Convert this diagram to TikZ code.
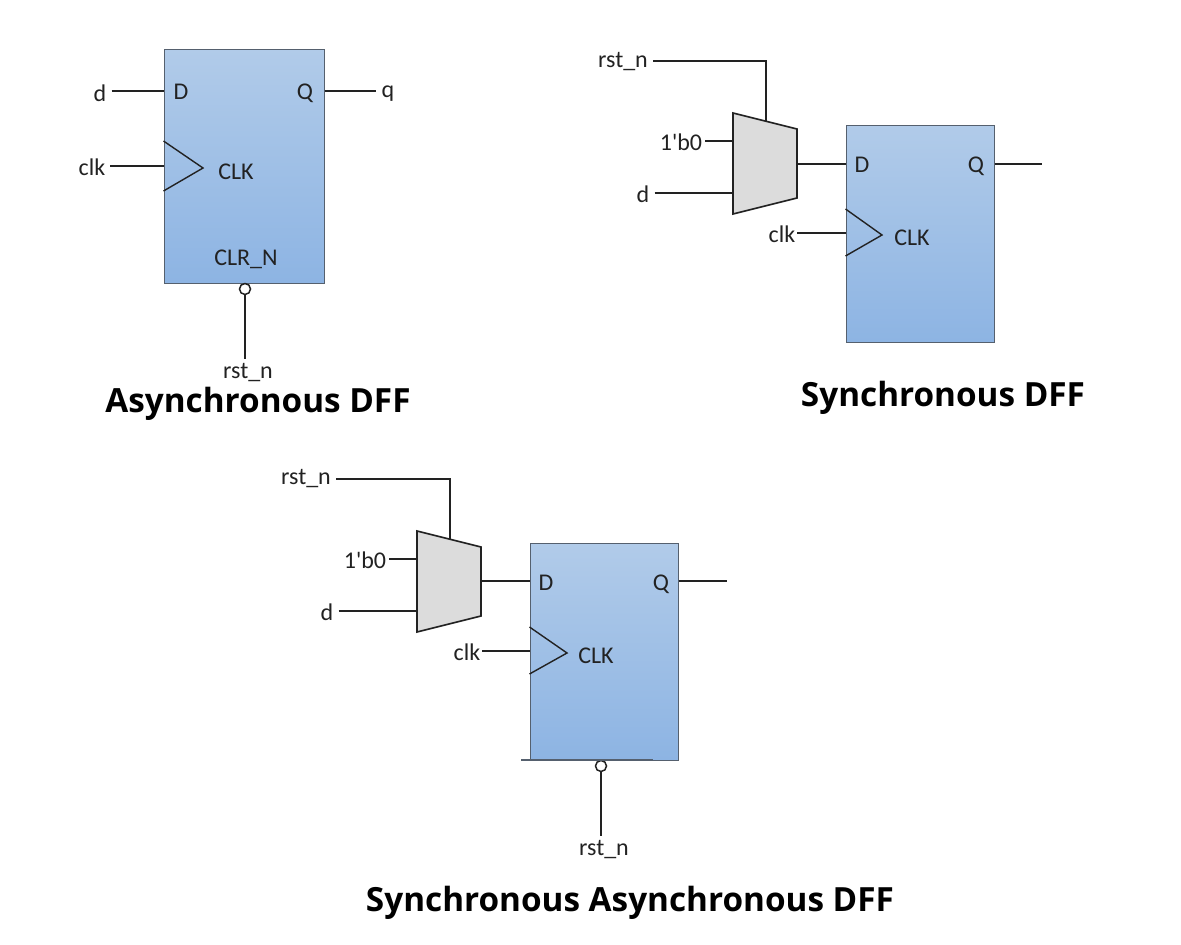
\documentclass[tikz,border=0pt]{standalone}
\usepackage{fontspec}
\setmainfont{Carlito}
\newfontfamily\titlefont[BoldFont={Open Sans Bold}]{Open Sans}
\definecolor{boxtop}{HTML}{B1CBE9}
\definecolor{boxbot}{HTML}{8DB4E3}
\definecolor{boxline}{HTML}{55606E}
\definecolor{muxfill}{HTML}{DCDCDC}
\definecolor{inkc}{HTML}{222222}
\tikzset{
  wire/.style={draw=inkc,line width=2pt},
  lbl/.style={inner sep=5pt,text=inkc,font=\fontsize{24}{24}\selectfont},
  ff/.style={draw=boxline,line width=1pt,top color=boxtop,bottom color=boxbot,minimum width=148pt,minimum height=217pt,inner sep=0pt},
  bubble/.style={circle,draw=inkc,line width=1.5pt,fill=white,minimum size=11pt,inner sep=0pt},
  mux/.style={draw=inkc,line width=1.6pt,fill=muxfill},
  heading/.style={inner sep=0pt,text=black,font=\titlefont\bfseries\fontsize{33.3}{33.3}\selectfont}
}
\begin{document}
\begin{tikzpicture}[x=1pt,y=-1pt]
  \useasboundingbox (0,0) rectangle (1181,945);

  \node[ff,minimum width=160pt,minimum height=234pt](box1) at (244,166){};
  \node[lbl](D1) at (181,92){D};
  \node[lbl](Q1) at (305,93){Q};
  \node[lbl](CLK1) at (236,172){CLK};
  \node[lbl](CLR1) at (246,259){CLR\_N};
  \node[lbl](d1) at (100,93){d};
  \node[lbl](clk1) at (92,167){clk};
  \node[lbl](q1) at (388,94){q};
  \node[lbl](rst1) at (248,373){rst\_n};
  \node[bubble](inv1) at (245,289){};
  \coordinate (tip1) at (203,168);
  \draw[wire,line width=1.4pt] (box1.west |- 0,141) -- (tip1) -- (box1.west |- 0,191);
  \draw[wire] (d1.east |- 0,91) -- (box1.west |- 0,91);
  \draw[wire] (clk1.east |- 0,166) -- (box1.west |- 0,166);
  \draw[wire] (box1.east |- 0,91) -- (q1.west |- 0,91);
  \draw[wire] (inv1) -- (rst1.north -| inv1);
  \node[heading](title1) at (258,404){Asynchronous DFF};

  \node[ff](box2) at (920,233.5){};
  \node[lbl](D2) at (862,165){D};
  \node[lbl](Q2) at (976,166){Q};
  \node[lbl](CLK2) at (912,238){CLK};
  \node[lbl,inner xsep=2pt](clk2) at (782,234){clk};
  \node[lbl,inner xsep=3pt](zero2) at (681,142){1\textquotesingle b0};
  \node[lbl](d2) at (643,194){d};
  \node[lbl](rst2) at (623,62){rst\_n};
  \coordinate (muxa2) at (733,113);
  \coordinate (muxb2) at (797,129);
  \coordinate (muxc2) at (797,198);
  \coordinate (muxd2) at (733,214);
  \coordinate (sel2) at (766,121);
  \coordinate (out2) at (1042,164);
  \coordinate (tip2) at (882,235);
  \draw[mux] (muxa2) -- (muxb2) -- (muxc2) -- (muxd2) -- cycle;
  \draw[wire,line width=1.4pt] (box2.west |- 0,209) -- (tip2) -- (box2.west |- 0,256);
  \draw[wire] (rst2.east |- 0,61) -| (sel2);
  \draw[wire] (zero2.east |- 0,141) -- (muxa2 |- 0,141);
  \draw[wire] (d2.east |- 0,193) -- (muxa2 |- 0,193);
  \draw[wire] (muxb2 |- out2) -- (box2.west |- out2);
  \draw[wire] (clk2.east |- 0,233) -- (box2.west |- 0,233);
  \draw[wire] (box2.east |- out2) -- (out2);
  \node[heading](title2) at (943,398){Synchronous DFF};

  \node[ff](box3) at (604,651.5){};
  \node[lbl](D3) at (546,583){D};
  \node[lbl](Q3) at (661,584){Q};
  \node[lbl](CLK3) at (596,656){CLK};
  \node[lbl,inner xsep=2pt](clk3) at (467,652){clk};
  \node[lbl,inner xsep=3pt](zero3) at (365,560){1\textquotesingle b0};
  \node[lbl](d3) at (327,612){d};
  \node[lbl](rst3) at (306,479){rst\_n};
  \node[lbl](rst4) at (604,850){rst\_n};
  \node[bubble](inv3) at (601,766){};
  \coordinate (muxa3) at (417,531);
  \coordinate (muxb3) at (481,547);
  \coordinate (muxc3) at (481,616);
  \coordinate (muxd3) at (417,632);
  \coordinate (sel3) at (450,539);
  \coordinate (out3) at (727,581);
  \coordinate (tip3) at (567,653);
  \coordinate (edgea3) at (521,760);
  \coordinate (edgeb3) at (653,760);
  \draw[mux] (muxa3) -- (muxb3) -- (muxc3) -- (muxd3) -- cycle;
  \draw[wire,line width=1.4pt] (box3.west |- 0,627) -- (tip3) -- (box3.west |- 0,674);
  \draw[wire] (rst3.east |- 0,479) -| (sel3);
  \draw[wire] (zero3.east |- 0,559) -- (muxa3 |- 0,559);
  \draw[wire] (d3.east |- 0,611) -- (muxa3 |- 0,611);
  \draw[wire] (muxb3 |- out3) -- (box3.west |- out3);
  \draw[wire] (clk3.east |- 0,651) -- (box3.west |- 0,651);
  \draw[wire] (box3.east |- out3) -- (out3);
  \draw[draw=boxline,line width=1.4pt] (edgea3) -- (edgeb3);
  \draw[wire] (inv3) -- (rst4.north -| inv3);
  \node[heading](title3) at (630,903){Synchronous Asynchronous DFF};
\end{tikzpicture}
\end{document}
